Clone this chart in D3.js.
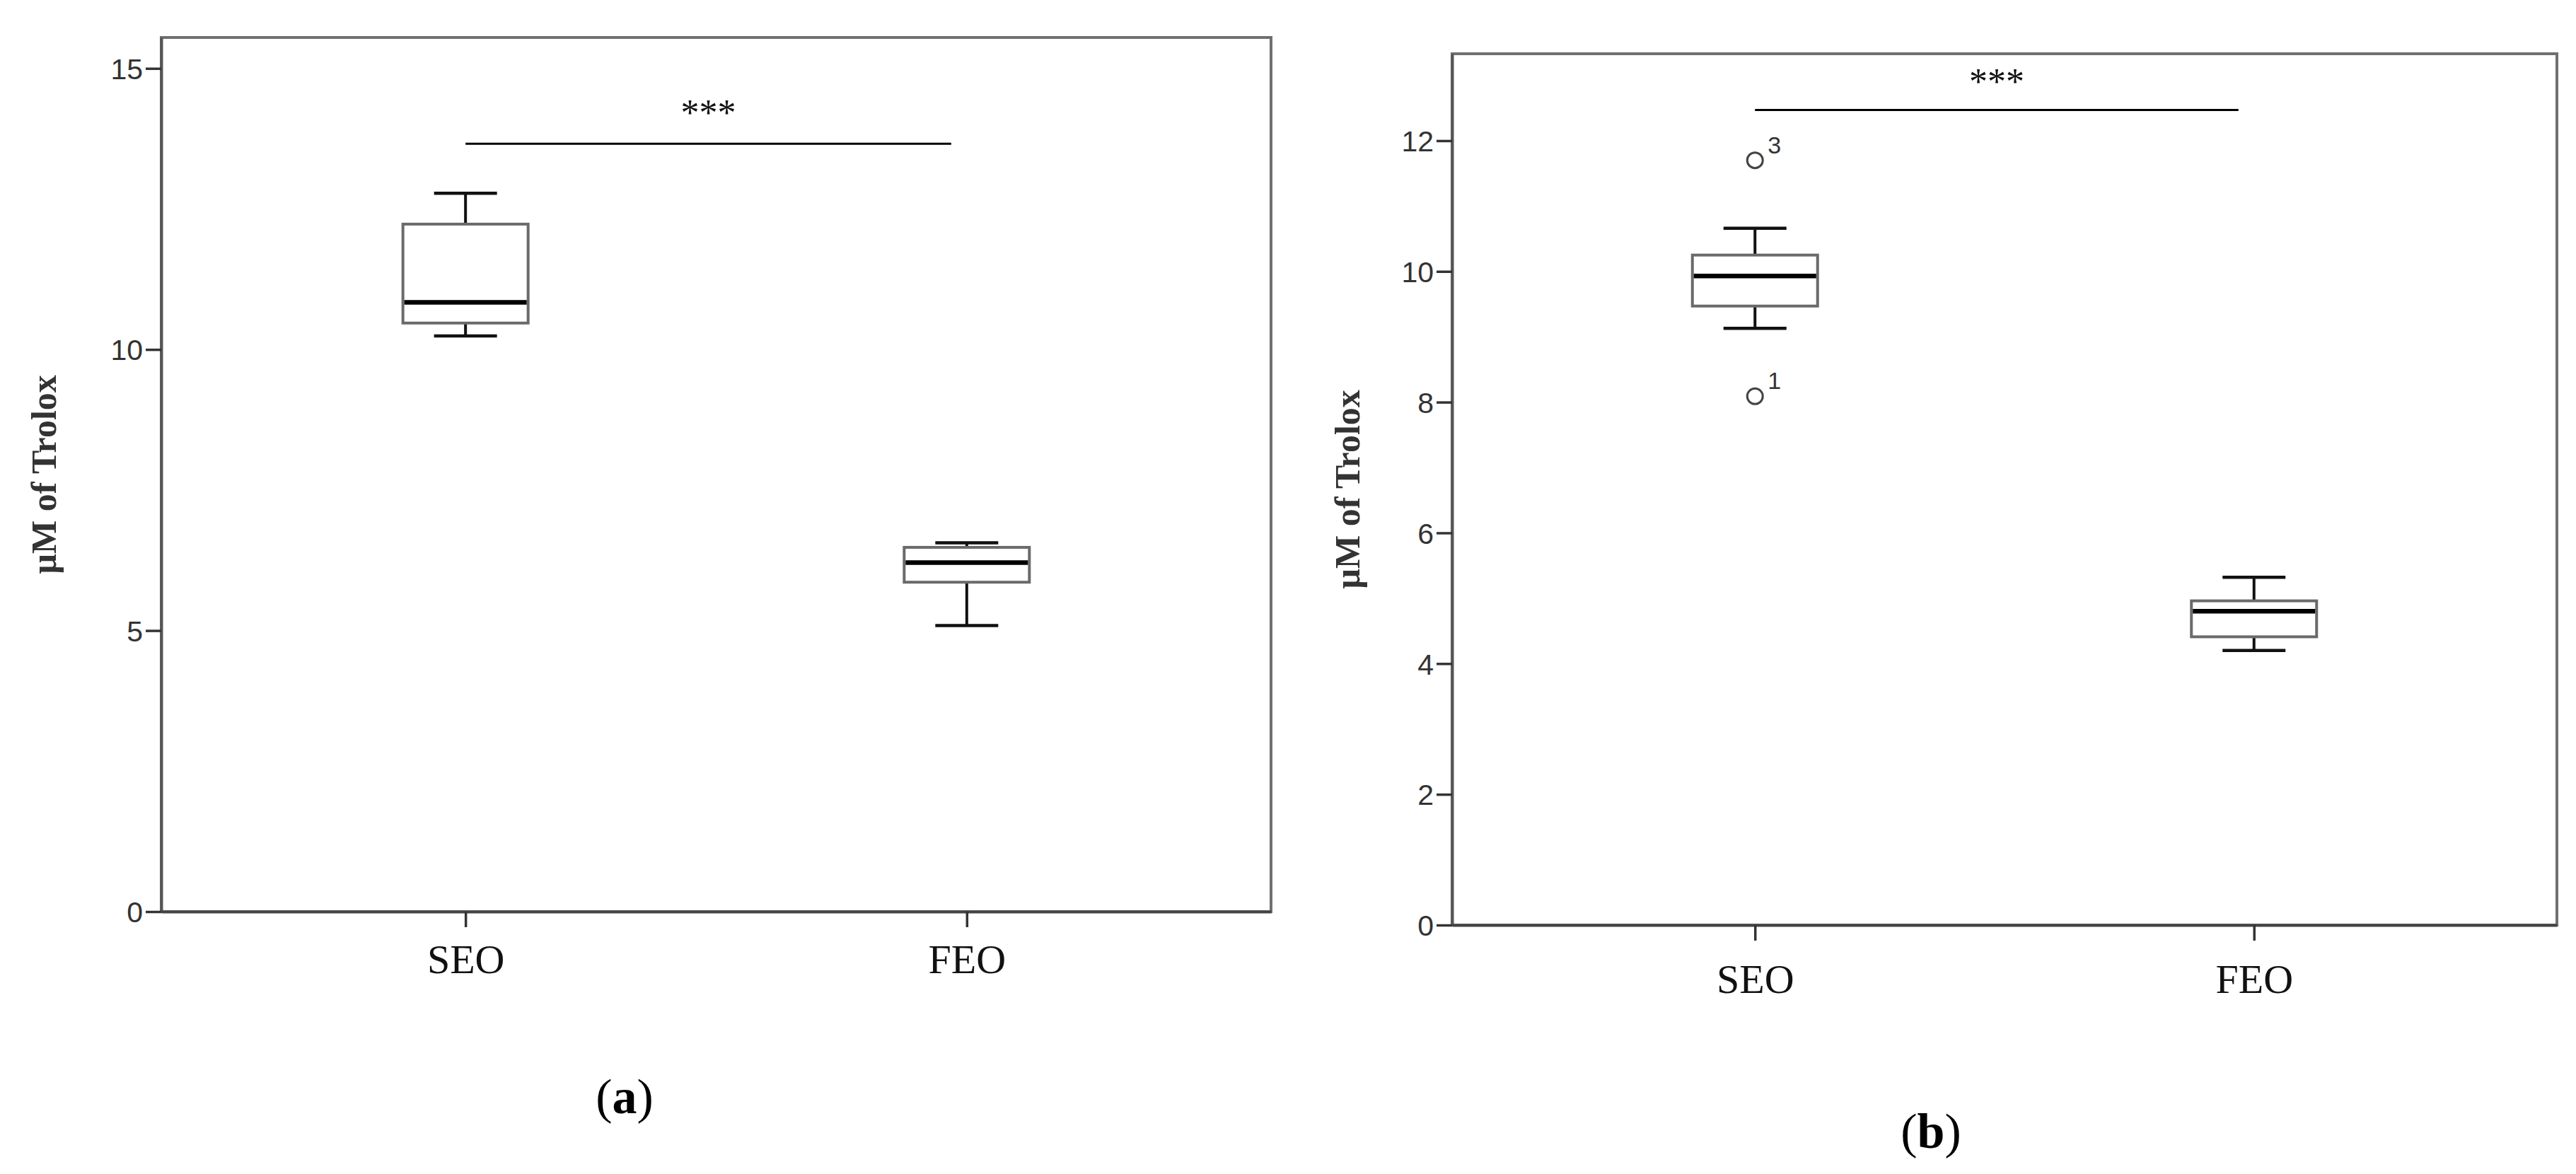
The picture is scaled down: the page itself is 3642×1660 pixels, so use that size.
<!DOCTYPE html>
<html>
<head>
<meta charset="utf-8">
<script src="https://cdn.jsdelivr.net/npm/d3@7"></script>
<style>
  html, body { margin: 0; padding: 0; background: #fff; }
  svg { display: block; }
</style>
</head>
<body>
<svg id="chart" width="3642" height="1660"></svg>
<script>
// ---------------- DATA ----------------
const categories = ["SEO", "FEO"];

// Panel (a) box statistics, per category
const aWhiskerLow  = [10.24, 5.09];
const aQ1          = [10.47, 5.86];
const aMedian      = [10.84, 6.21];
const aQ3          = [12.23, 6.48];
const aWhiskerHigh = [12.78, 6.56];
const aTicks = [0, 5, 10, 15];
const aSignificance = 13.66;

// Panel (b) box statistics, per category
const bWhiskerLow  = [9.13, 4.20];
const bQ1          = [9.47, 4.41];
const bMedian      = [9.93, 4.80];
const bQ3          = [10.25, 4.96];
const bWhiskerHigh = [10.66, 5.32];
const bOutlierCategory = ["SEO", "SEO"];
const bOutlierValues   = [11.70, 8.09];
const bOutlierLabels   = ["3", "1"];
const bTicks = [0, 2, 4, 6, 8, 10, 12];
const bSignificance = 12.47;

const sigLabel = "***";
const axisTitle = "\u00B5M of Trolox";
const panelLetters = ["a", "b"];

// ---------------- LAYOUT ----------------
const svg = d3.select("#chart");
svg.append("rect").attr("width", 3642).attr("height", 1660).attr("fill", "#fff");

const panels = [
  { left: 228, right: 1797, top: 53, bottom: 1289, yMax: 15.55,
    lo: aWhiskerLow, q1: aQ1, med: aMedian, q3: aQ3, hi: aWhiskerHigh,
    ticks: aTicks, sig: aSignificance, sigStarY: 14.27,
    outCat: [], outVal: [], outLab: [],
    titleX: 62, letter: panelLetters[0], letterX: 883, letterY: 1574, catLabelY: 1376 },
  { left: 2053, right: 3615, top: 76, bottom: 1308, yMax: 13.33,
    lo: bWhiskerLow, q1: bQ1, med: bMedian, q3: bQ3, hi: bWhiskerHigh,
    ticks: bTicks, sig: bSignificance, sigStarY: 12.95,
    outCat: bOutlierCategory, outVal: bOutlierValues, outLab: bOutlierLabels,
    titleX: 1905, letter: panelLetters[1], letterX: 2730, letterY: 1623, catLabelY: 1404 }
];

const boxW = 177, capW = 89;

panels.forEach(p => {
  const g = svg.append("g");
  const x = d3.scalePoint().domain(categories).range([p.left, p.right]).padding(0.607);
  const y = d3.scaleLinear().domain([0, p.yMax]).range([p.bottom, p.top]);

  // frame
  g.append("rect")
    .attr("x", p.left).attr("y", p.top)
    .attr("width", p.right - p.left).attr("height", p.bottom - p.top)
    .attr("fill", "none").attr("stroke", "#707070").attr("stroke-width", 4);

  // y axis
  const ya = g.append("g").attr("transform", `translate(${p.left},0)`)
    .call(d3.axisLeft(y).tickValues(p.ticks).tickSize(22).tickSizeOuter(0).tickPadding(4).tickFormat(d3.format("d")));
  ya.select(".domain").attr("stroke", "#555").attr("stroke-width", 4);
  ya.selectAll(".tick line").attr("stroke", "#333").attr("stroke-width", 3.5);
  ya.selectAll(".tick text")
    .attr("font-family", "'Liberation Sans', Arial, sans-serif")
    .attr("font-size", 41).attr("fill", "#333")
    .attr("dy", "0.36em");

  // x axis
  const xa = g.append("g").attr("transform", `translate(0,${p.bottom})`)
    .call(d3.axisBottom(x).tickSize(22).tickSizeOuter(0).tickPadding(0));
  xa.select(".domain").attr("stroke", "#444").attr("stroke-width", 4);
  xa.selectAll(".tick line").attr("stroke", "#333").attr("stroke-width", 3.5);
  xa.selectAll(".tick text")
    .attr("font-family", "'Liberation Serif', 'Times New Roman', serif")
    .attr("font-size", 58).attr("fill", "#111")
    .attr("y", p.catLabelY - p.bottom).attr("dy", 0);

  // boxes
  const idx = categories.map((c, i) => i);
  const boxes = g.selectAll(".box").data(idx).join("g").attr("class", "box");
  // whisker stems
  boxes.append("line")
    .attr("x1", i => x(categories[i])).attr("x2", i => x(categories[i]))
    .attr("y1", i => y(p.hi[i])).attr("y2", i => y(p.q3[i]))
    .attr("stroke", "#111").attr("stroke-width", 4);
  boxes.append("line")
    .attr("x1", i => x(categories[i])).attr("x2", i => x(categories[i]))
    .attr("y1", i => y(p.q1[i])).attr("y2", i => y(p.lo[i]))
    .attr("stroke", "#111").attr("stroke-width", 4);
  // caps
  boxes.append("line")
    .attr("x1", i => x(categories[i]) - capW / 2).attr("x2", i => x(categories[i]) + capW / 2)
    .attr("y1", i => y(p.hi[i])).attr("y2", i => y(p.hi[i]))
    .attr("stroke", "#111").attr("stroke-width", 4.5);
  boxes.append("line")
    .attr("x1", i => x(categories[i]) - capW / 2).attr("x2", i => x(categories[i]) + capW / 2)
    .attr("y1", i => y(p.lo[i])).attr("y2", i => y(p.lo[i]))
    .attr("stroke", "#111").attr("stroke-width", 4.5);
  // box
  boxes.append("rect")
    .attr("x", i => x(categories[i]) - boxW / 2)
    .attr("y", i => y(p.q3[i]))
    .attr("width", boxW)
    .attr("height", i => y(p.q1[i]) - y(p.q3[i]))
    .attr("fill", "#fff").attr("stroke", "#6a6a6a").attr("stroke-width", 4);
  // median
  boxes.append("line")
    .attr("x1", i => x(categories[i]) - boxW / 2 + 2).attr("x2", i => x(categories[i]) + boxW / 2 - 2)
    .attr("y1", i => y(p.med[i])).attr("y2", i => y(p.med[i]))
    .attr("stroke", "#000").attr("stroke-width", 6.5);

  // outliers
  const outIdx = p.outVal.map((v, i) => i);
  const outs = g.selectAll(".outlier").data(outIdx).join("g").attr("class", "outlier");
  outs.append("circle")
    .attr("cx", i => x(p.outCat[i])).attr("cy", i => y(p.outVal[i]))
    .attr("r", 11).attr("fill", "none").attr("stroke", "#444").attr("stroke-width", 3);
  outs.append("text")
    .attr("x", i => x(p.outCat[i]) + 18).attr("y", i => y(p.outVal[i]) - 10)
    .attr("font-family", "'Liberation Sans', Arial, sans-serif")
    .attr("font-size", 34).attr("fill", "#333")
    .text(i => p.outLab[i]);

  // significance line
  g.append("line")
    .attr("x1", x(categories[0])).attr("x2", x(categories[1]) - 22)
    .attr("y1", y(p.sig)).attr("y2", y(p.sig))
    .attr("stroke", "#000").attr("stroke-width", 3);
  g.append("text")
    .attr("x", (x(categories[0]) + x(categories[1]) - 22) / 2)
    .attr("y", y(p.sigStarY) + 22)
    .attr("text-anchor", "middle")
    .attr("font-family", "'Liberation Serif', 'Times New Roman', serif")
    .attr("font-size", 52).attr("fill", "#111")
    .text(sigLabel);

  // y title
  g.append("text")
    .attr("transform", `translate(${p.titleX},${(p.top + p.bottom) / 2}) rotate(-90)`)
    .attr("text-anchor", "middle").attr("dominant-baseline", "central")
    .attr("font-family", "'Liberation Serif', 'Times New Roman', serif")
    .attr("font-weight", "bold").attr("font-size", 50).attr("fill", "#333")
    .text(axisTitle);

  // panel letter
  const lt = g.append("text")
    .attr("x", p.letterX).attr("y", p.letterY)
    .attr("text-anchor", "middle")
    .attr("font-family", "'Liberation Serif', 'Times New Roman', serif")
    .attr("font-size", 70).attr("fill", "#000");
  lt.append("tspan").text("(");
  lt.append("tspan").attr("font-weight", "bold").text(p.letter);
  lt.append("tspan").text(")");
});
</script>
</body>
</html>
